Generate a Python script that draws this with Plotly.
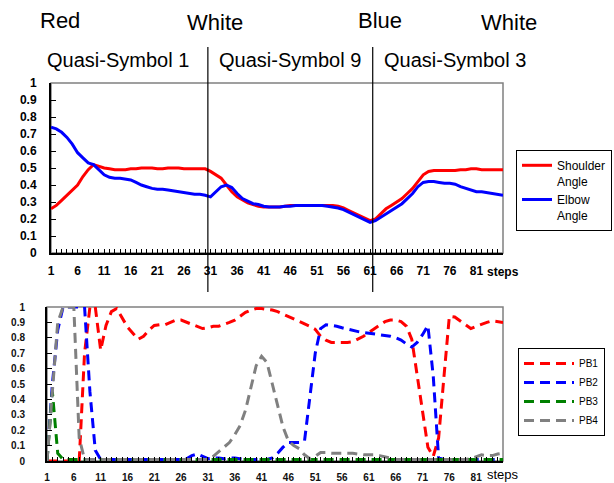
import plotly.graph_objects as go

FONT = "Liberation Sans, Arial, sans-serif"

steps = list(range(1, 87))
step_tick_vals = list(range(1, 82, 5))

shoulder_angle = [
    0.26, 0.28, 0.31, 0.34, 0.37, 0.40, 0.45, 0.49, 0.52, 0.51,
    0.50, 0.495, 0.49, 0.49, 0.49, 0.495, 0.495, 0.50, 0.50, 0.50,
    0.495, 0.495, 0.50, 0.50, 0.50, 0.495, 0.495, 0.495, 0.495, 0.495,
    0.48, 0.46, 0.44, 0.40, 0.36, 0.33, 0.31, 0.295, 0.285, 0.275,
    0.27, 0.27, 0.27, 0.27, 0.275, 0.28, 0.28, 0.28, 0.28, 0.28,
    0.28, 0.28, 0.28, 0.28, 0.275, 0.265, 0.25, 0.235, 0.22, 0.205,
    0.19, 0.20, 0.23, 0.26, 0.28, 0.30, 0.32, 0.35, 0.38, 0.42,
    0.46, 0.48, 0.485, 0.485, 0.485, 0.485, 0.485, 0.49, 0.49, 0.495,
    0.495, 0.49, 0.49, 0.49, 0.49, 0.49,
]

elbow_angle = [
    0.74, 0.73, 0.71, 0.68, 0.64, 0.59, 0.56, 0.53, 0.52, 0.49,
    0.46, 0.445, 0.44, 0.44, 0.435, 0.43, 0.415, 0.40, 0.39, 0.38,
    0.375, 0.375, 0.37, 0.365, 0.36, 0.355, 0.35, 0.345, 0.345, 0.34,
    0.33, 0.36, 0.39, 0.40, 0.385, 0.35, 0.32, 0.305, 0.29, 0.285,
    0.275, 0.27, 0.27, 0.27, 0.275, 0.275, 0.28, 0.28, 0.28, 0.28,
    0.28, 0.28, 0.275, 0.27, 0.265, 0.255, 0.24, 0.225, 0.21, 0.195,
    0.18, 0.19, 0.21, 0.235, 0.25, 0.27, 0.29, 0.32, 0.35, 0.39,
    0.415, 0.42, 0.42, 0.415, 0.41, 0.41, 0.405, 0.39, 0.38, 0.37,
    0.36, 0.36, 0.355, 0.35, 0.345, 0.34,
]

pb1 = [
    0.0, 0.0, 0.0, 0.0, 0.0, 0.0, 0.0, 0.7, 1.0, 1.0,
    0.72, 0.88, 0.97, 0.99, 0.93, 0.87, 0.83, 0.79, 0.81, 0.85,
    0.88, 0.885, 0.885, 0.90, 0.915, 0.915, 0.90, 0.885, 0.87, 0.86,
    0.865, 0.875, 0.875, 0.885, 0.90, 0.915, 0.94, 0.965, 0.98, 0.99,
    0.99, 0.985, 0.98, 0.97, 0.955, 0.94, 0.925, 0.905, 0.89, 0.875,
    0.855, 0.81, 0.785, 0.77, 0.77, 0.77, 0.77, 0.775, 0.79, 0.81,
    0.835, 0.86, 0.885, 0.905, 0.915, 0.915, 0.905, 0.875, 0.79, 0.55,
    0.33, 0.09, 0.03, 0.15, 0.55, 0.94, 0.935, 0.91, 0.88, 0.86,
    0.875, 0.89, 0.90, 0.91, 0.905, 0.90,
]

pb2 = [
    0.0, 0.5, 0.85, 1.0, 1.0, 1.0, 1.0, 1.0, 0.45, 0.07,
    0.01, 0.01, 0.01, 0.01, 0.01, 0.01, 0.01, 0.01, 0.01, 0.01,
    0.01, 0.01, 0.01, 0.01, 0.01, 0.01, 0.015, 0.035, 0.045, 0.03,
    0.015, 0.02, 0.02, 0.015, 0.02, 0.02, 0.015, 0.01, 0.01, 0.01,
    0.01, 0.01, 0.02, 0.05, 0.09, 0.12, 0.12, 0.12, 0.13, 0.40,
    0.70, 0.86, 0.885, 0.88, 0.875, 0.865, 0.855, 0.845, 0.84, 0.835,
    0.83, 0.825, 0.82, 0.815, 0.81, 0.80, 0.785, 0.76, 0.74, 0.77,
    0.82, 0.88, 0.55, 0.02, 0.01, 0.01, 0.01, 0.01, 0.01, 0.01,
    0.01, 0.01, 0.01, 0.01, 0.01, 0.01,
]

pb3 = [
    0.0, 0.45, 0.05, 0.01, 0.01, 0.01, 0.01, 0.01, 0.01, 0.01,
    0.01, 0.01, 0.01, 0.01, 0.01, 0.01, 0.01, 0.01, 0.01, 0.01,
    0.01, 0.01, 0.01, 0.01, 0.01, 0.01, 0.01, 0.01, 0.01, 0.01,
    0.01, 0.01, 0.01, 0.01, 0.01, 0.01, 0.01, 0.01, 0.01, 0.01,
    0.01, 0.01, 0.01, 0.01, 0.01, 0.01, 0.01, 0.01, 0.01, 0.01,
    0.01, 0.01, 0.01, 0.01, 0.01, 0.01, 0.01, 0.01, 0.01, 0.01,
    0.01, 0.01, 0.01, 0.01, 0.01, 0.01, 0.01, 0.01, 0.01, 0.01,
    0.01, 0.01, 0.01, 0.01, 0.01, 0.01, 0.01, 0.01, 0.01, 0.01,
    0.01, 0.01, 0.01, 0.01, 0.01, 0.01,
]

pb4 = [
    0.0, 0.45, 0.9, 1.0, 1.0, 1.0, 0.15, 0.01, 0.01, 0.01,
    0.01, 0.01, 0.01, 0.01, 0.01, 0.01, 0.01, 0.01, 0.01, 0.01,
    0.01, 0.01, 0.01, 0.01, 0.01, 0.01, 0.01, 0.01, 0.01, 0.01,
    0.01, 0.03, 0.06, 0.09, 0.12, 0.17, 0.23, 0.33, 0.47, 0.62,
    0.68, 0.64, 0.50, 0.36, 0.22, 0.13, 0.10, 0.08, 0.04, 0.015,
    0.03, 0.055, 0.055, 0.05, 0.05, 0.05, 0.05, 0.05, 0.045, 0.04,
    0.04, 0.04, 0.035, 0.025, 0.015, 0.01, 0.01, 0.01, 0.01, 0.01,
    0.01, 0.01, 0.01, 0.01, 0.01, 0.01, 0.01, 0.01, 0.01, 0.015,
    0.025, 0.04, 0.035, 0.035, 0.045, 0.05,
]

segment_bounds = [30.5, 61.5]
color_labels = [("Red", 60, 21), ("White", 215, 22), ("Blue", 380, 20), ("White", 509, 22)]
symbol_labels = [("Quasi-Symbol 1", 118, 60), ("Quasi-Symbol 9", 290, 60), ("Quasi-Symbol 3", 455, 60)]

W, H = 614, 483


def px(x):
    return x / W


def py(y):
    return (H - y) / H


fig = go.Figure()

fig.add_trace(go.Scatter(x=steps, y=shoulder_angle, mode="lines", name="Shoulder<br>Angle",
                         line=dict(color="#FF0000", width=3), xaxis="x", yaxis="y", legend="legend"))
fig.add_trace(go.Scatter(x=steps, y=elbow_angle, mode="lines", name="Elbow<br>Angle",
                         line=dict(color="#0000FF", width=3), xaxis="x", yaxis="y", legend="legend"))

dash = "10px,6px"
for name, vals, col in [("PB1", pb1, "#FF0000"), ("PB2", pb2, "#0000FF"),
                        ("PB3", pb3, "#008000"), ("PB4", pb4, "#808080")]:
    fig.add_trace(go.Scatter(x=steps, y=vals, mode="lines", name=name,
                             line=dict(color=col, width=3, dash=dash),
                             xaxis="x2", yaxis="y2", legend="legend2"))

tickfont_top = dict(family=FONT, size=12, color="black", weight="bold")
tickfont_bot = dict(family=FONT, size=10, color="#111", weight="bold")

common_x = dict(range=[1, 86], tickmode="array", tickvals=step_tick_vals,
                ticktext=[str(v) for v in step_tick_vals],
                showline=True, linecolor="black", linewidth=2,
                ticks="inside", ticklen=4, tickcolor="black",
                minor=dict(tickmode="array", tickvals=steps, ticks="inside", ticklen=4,
                           tickcolor="black", showgrid=False),
                showgrid=False, zeroline=False, automargin=False)
common_y = dict(range=[0, 1], dtick=0.1, tick0=0, showline=True, linecolor="black", linewidth=2,
                ticks="inside", ticklen=5, tickcolor="black", showgrid=False, zeroline=False,
                automargin=False)

fig.update_layout(
    width=W, height=H, margin=dict(l=0, r=0, t=0, b=0, pad=0, autoexpand=False),
    paper_bgcolor="white", plot_bgcolor="white",
    xaxis=dict(domain=[px(51), px(503)], anchor="y", tickfont=tickfont_top,
               ticklabelstandoff=6, **common_x),
    yaxis=dict(domain=[py(253), py(83)], anchor="x", tickfont=tickfont_top,
               ticklabelstandoff=10, **common_y),
    xaxis2=dict(domain=[px(47), px(503)], anchor="y2", tickfont=tickfont_bot,
                ticklabelstandoff=6, **common_x),
    yaxis2=dict(domain=[py(461), py(307)], anchor="x2", tickfont=tickfont_bot,
                ticklabelstandoff=18, **common_y),
    legend=dict(x=px(516), y=py(150), xanchor="left", yanchor="top",
                bgcolor="white", bordercolor="black", borderwidth=1,
                font=dict(family=FONT, size=12, color="black"), valign="top",
                tracegroupgap=0),
    legend2=dict(x=px(518), y=py(348), xanchor="left", yanchor="top",
                 bgcolor="white", bordercolor="black", borderwidth=1,
                 font=dict(family=FONT, size=10, color="black"), itemwidth=50,
                 tracegroupgap=0),
    showlegend=True,
)

shapes = []
for xr, yr in [("x domain", "y domain"), ("x2 domain", "y2 domain")]:
    shapes.append(dict(type="rect", xref=xr, yref=yr, x0=0, x1=1, y0=0, y1=1,
                       line=dict(color="#808080", width=1.5), layer="below"))
for b in segment_bounds:
    shapes.append(dict(type="line", xref="x", yref="paper", x0=b, x1=b,
                       y0=py(292), y1=py(47), line=dict(color="black", width=1.2)))
fig.update_layout(shapes=shapes)

ann = []
for text, x, y in color_labels:
    ann.append(dict(text=text, x=px(x), y=py(y), xref="paper", yref="paper",
                    showarrow=False, xanchor="center", yanchor="middle",
                    font=dict(family=FONT, size=22, color="black")))
for text, x, y in symbol_labels:
    ann.append(dict(text=text, x=px(x), y=py(y), xref="paper", yref="paper",
                    showarrow=False, xanchor="center", yanchor="middle",
                    font=dict(family=FONT, size=20, color="black")))
ann.append(dict(text="steps", x=86, y=py(272), xref="x", yref="paper", showarrow=False,
                xanchor="center", yanchor="middle",
                font=dict(family=FONT, size=12, color="black", weight="bold")))
ann.append(dict(text="steps", x=86, y=py(474), xref="x2", yref="paper", showarrow=False,
                xanchor="center", yanchor="middle",
                font=dict(family=FONT, size=13, color="black")))
fig.update_layout(annotations=ann)

fig.write_html("out.html", config={"displayModeBar": False},
               post_script="document.body.style.margin='0';document.body.style.overflow='hidden';")
